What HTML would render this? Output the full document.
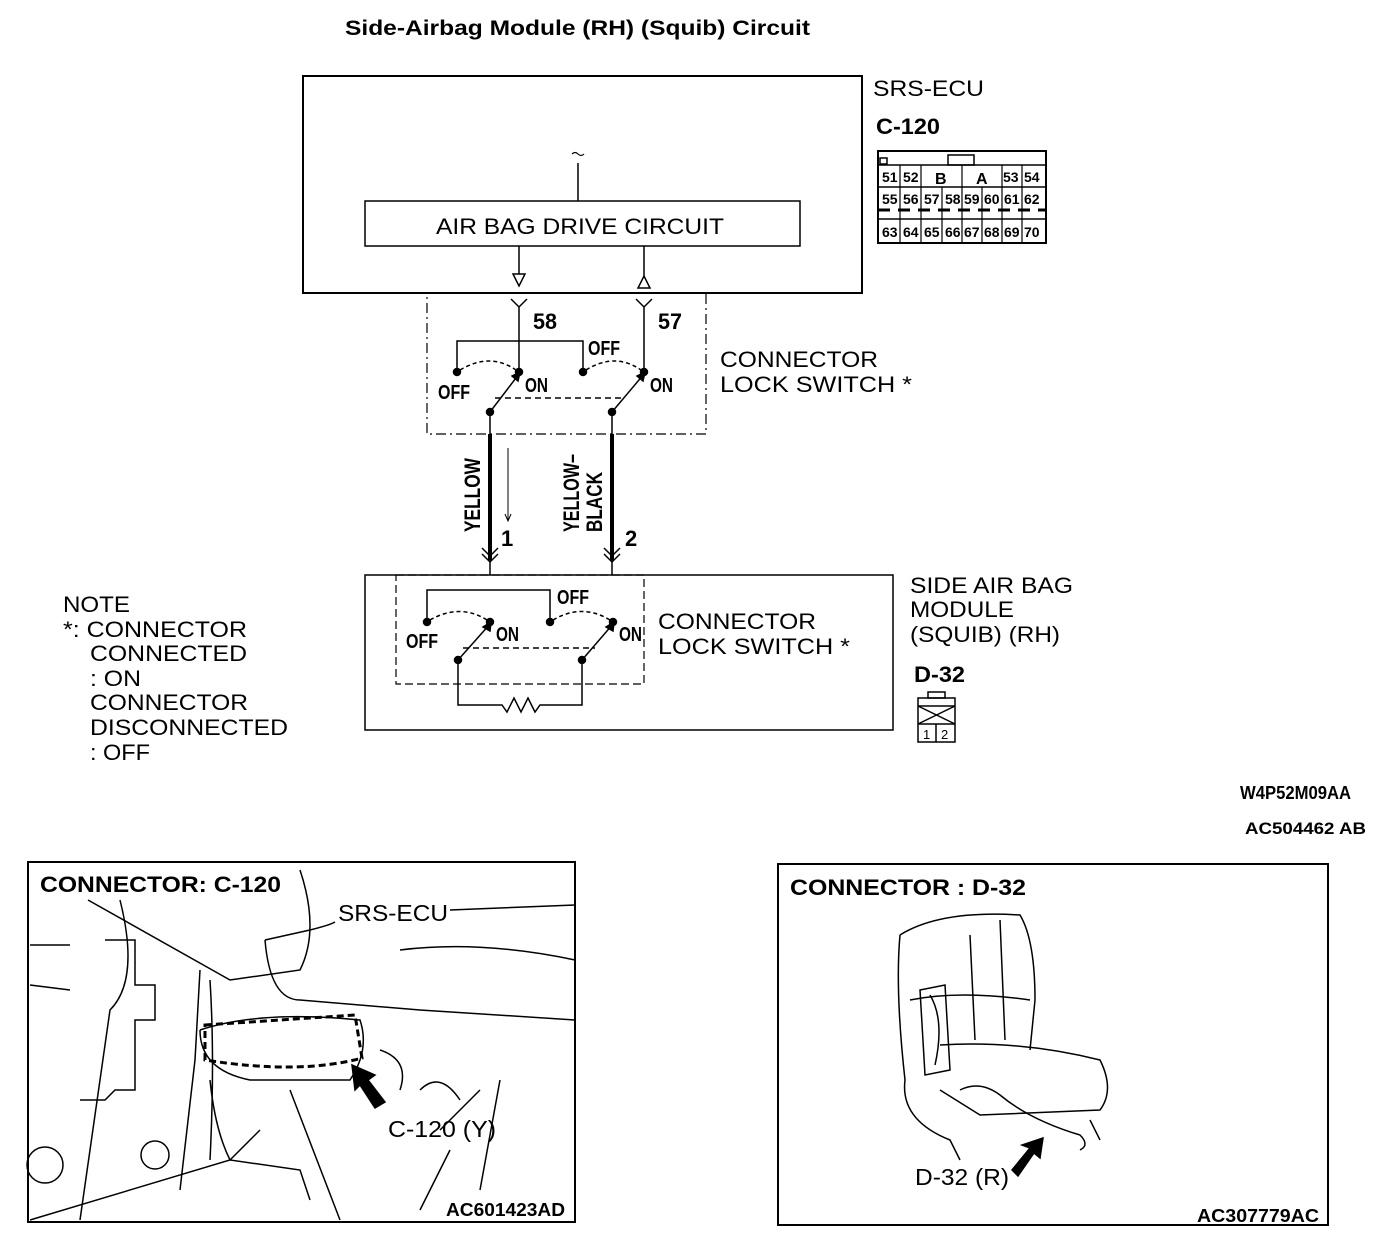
<!DOCTYPE html>
<html><head><style>
body{margin:0;background:#fff;}
svg{display:block;}
text{font-family:"Liberation Sans",sans-serif;fill:#000;}
.b{font-weight:bold;}
</style></head><body>
<svg width="1392" height="1246" viewBox="0 0 1392 1246" xmlns="http://www.w3.org/2000/svg" fill="none" stroke="#000" stroke-width="1.5">
<g stroke="none" lengthAdjust="spacingAndGlyphs">
<text x="345" y="35" class="b" font-size="21" textLength="465" lengthAdjust="spacingAndGlyphs">Side-Airbag Module (RH) (Squib) Circuit</text>
<text x="873" y="96" font-size="22" textLength="111" lengthAdjust="spacingAndGlyphs">SRS-ECU</text>
<text x="876" y="134" font-size="22" class="b" textLength="64" lengthAdjust="spacingAndGlyphs">C-120</text>
<text x="436" y="234" font-size="22" textLength="288" lengthAdjust="spacingAndGlyphs">AIR BAG DRIVE CIRCUIT</text>
<text x="720" y="367" font-size="22" textLength="158" lengthAdjust="spacingAndGlyphs">CONNECTOR</text>
<text x="720" y="392" font-size="22" textLength="192" lengthAdjust="spacingAndGlyphs">LOCK SWITCH *</text>
<text x="658" y="629" font-size="22" textLength="158" lengthAdjust="spacingAndGlyphs">CONNECTOR</text>
<text x="658" y="654" font-size="22" textLength="192" lengthAdjust="spacingAndGlyphs">LOCK SWITCH *</text>
<text x="910" y="593" font-size="22" textLength="163" lengthAdjust="spacingAndGlyphs">SIDE AIR BAG</text>
<text x="910" y="617" font-size="22" textLength="104" lengthAdjust="spacingAndGlyphs">MODULE</text>
<text x="910" y="642" font-size="22" textLength="150" lengthAdjust="spacingAndGlyphs">(SQUIB) (RH)</text>
<text x="914" y="682" font-size="22" class="b" textLength="51" lengthAdjust="spacingAndGlyphs">D-32</text>
<text x="63" y="612" font-size="22" textLength="67" lengthAdjust="spacingAndGlyphs">NOTE</text>
<text x="63" y="637" font-size="22" textLength="184" lengthAdjust="spacingAndGlyphs">*: CONNECTOR</text>
<text x="90" y="661" font-size="22" textLength="157" lengthAdjust="spacingAndGlyphs">CONNECTED</text>
<text x="90" y="686" font-size="22" textLength="51" lengthAdjust="spacingAndGlyphs">: ON</text>
<text x="90" y="710" font-size="22" textLength="158" lengthAdjust="spacingAndGlyphs">CONNECTOR</text>
<text x="90" y="735" font-size="22" textLength="198" lengthAdjust="spacingAndGlyphs">DISCONNECTED</text>
<text x="90" y="760" font-size="22" textLength="60" lengthAdjust="spacingAndGlyphs">: OFF</text>
<text x="1240" y="799" font-size="18" class="b" textLength="111" lengthAdjust="spacingAndGlyphs">W4P52M09AA</text>
<text x="1245" y="834" font-size="17" class="b" textLength="121" lengthAdjust="spacingAndGlyphs">AC504462 AB</text>
<text x="40" y="892" font-size="22" class="b" textLength="241" lengthAdjust="spacingAndGlyphs">CONNECTOR: C-120</text>
<text x="338" y="921" font-size="23" textLength="110" lengthAdjust="spacingAndGlyphs">SRS-ECU</text>
<text x="388" y="1137" font-size="23" textLength="108" lengthAdjust="spacingAndGlyphs">C-120 (Y)</text>
<text x="446" y="1216" font-size="18" class="b" textLength="119" lengthAdjust="spacingAndGlyphs">AC601423AD</text>
<text x="790" y="895" font-size="22" class="b" textLength="236" lengthAdjust="spacingAndGlyphs">CONNECTOR : D-32</text>
<text x="915" y="1185" font-size="23" textLength="94" lengthAdjust="spacingAndGlyphs">D-32 (R)</text>
<text x="1197" y="1222" font-size="18" class="b" textLength="122" lengthAdjust="spacingAndGlyphs">AC307779AC</text>
</g>
<!-- ECU -->
<rect x="303" y="76" width="559" height="217" stroke-width="2"/>
<path d="M572 154 q3 -3 6 0 t6 0" stroke-width="1.2"/>
<line x1="578" y1="163" x2="578" y2="201"/>
<rect x="365" y="201" width="435" height="45"/>
<line x1="519" y1="246" x2="519" y2="274"/><path d="M513 274 L525 274 L519 286 Z"/>
<line x1="644" y1="246" x2="644" y2="276"/><path d="M638 288 L650 288 L644 276 Z"/>
<!-- connector pin diagram -->
<rect x="878" y="151" width="168" height="92" stroke-width="2"/>
<rect x="948" y="155" width="26" height="10"/>
<rect x="880" y="158" width="7" height="6"/>
<line x1="878" y1="165" x2="1046" y2="165"/>
<line x1="878" y1="187" x2="1046" y2="187"/>
<line x1="878" y1="210" x2="1046" y2="210" stroke-width="3" stroke-dasharray="12 8"/>
<line x1="878" y1="219" x2="1046" y2="219"/>
<g font-size="14" class="b" stroke="none">
<text x="882" y="182">51</text><text x="903" y="182">52</text><text x="935" y="184" font-size="16">B</text><text x="976" y="184" font-size="16">A</text><text x="1003" y="182">53</text><text x="1024" y="182">54</text>
<text x="882" y="204">55</text><text x="903" y="204">56</text><text x="924" y="204">57</text><text x="945" y="204">58</text><text x="964" y="204">59</text><text x="984" y="204">60</text><text x="1004" y="204">61</text><text x="1024" y="204">62</text>
<text x="882" y="237">63</text><text x="903" y="237">64</text><text x="924" y="237">65</text><text x="945" y="237">66</text><text x="964" y="237">67</text><text x="984" y="237">68</text><text x="1004" y="237">69</text><text x="1024" y="237">70</text>
</g>
<g stroke-width="1.2">
<line x1="900" y1="165" x2="900" y2="243"/><line x1="921" y1="187" x2="921" y2="243"/><line x1="942" y1="187" x2="942" y2="243"/><line x1="962" y1="187" x2="962" y2="243"/><line x1="982" y1="187" x2="982" y2="243"/><line x1="1002" y1="187" x2="1002" y2="243"/><line x1="1022" y1="165" x2="1022" y2="243"/>
<line x1="921" y1="165" x2="921" y2="187"/><line x1="962" y1="165" x2="962" y2="187"/><line x1="1002" y1="165" x2="1002" y2="187"/>
</g>
<!-- upper connector lock switch -->
<rect x="427" y="293" width="279" height="141" stroke-dasharray="10 4 2 4" stroke-width="1.2"/>
<path d="M511 299 L519 307 L527 299 M519 307 L519 372"/>
<path d="M636 299 L644 307 L652 299 M644 307 L644 372"/>
<g font-size="22" class="b" stroke="none">
<text x="533" y="329" textLength="24" lengthAdjust="spacingAndGlyphs">58</text>
<text x="658" y="329" textLength="24" lengthAdjust="spacingAndGlyphs">57</text>
</g>
<path d="M457 372 L457 341 L583 341 L583 372"/>
<path d="M460 370 Q490 352 516 370" stroke-dasharray="4 3"/>
<path d="M586 370 Q615 352 641 370" stroke-dasharray="4 3"/>
<g fill="#000"><circle cx="457" cy="372" r="3.5"/><circle cx="519" cy="372" r="3.5"/><circle cx="583" cy="372" r="3.5"/><circle cx="644" cy="372" r="3.5"/><circle cx="490" cy="412" r="3.5"/><circle cx="612" cy="412" r="3.5"/></g>
<line x1="490" y1="412" x2="519" y2="374"/><line x1="612" y1="412" x2="644" y2="374"/>
<path d="M512 376 L520 372 L518 381 Z" fill="#000"/><path d="M637 376 L645 372 L643 381 Z" fill="#000"/>
<line x1="495" y1="398" x2="625" y2="398" stroke-dasharray="6 4"/>
<g font-size="20" class="b" stroke="none">
<text x="438" y="399" textLength="32" lengthAdjust="spacingAndGlyphs">OFF</text><text x="525" y="392" textLength="23" lengthAdjust="spacingAndGlyphs">ON</text><text x="588" y="355" textLength="32" lengthAdjust="spacingAndGlyphs">OFF</text><text x="650" y="392" textLength="23" lengthAdjust="spacingAndGlyphs">ON</text>
</g>
<!-- wires -->
<line x1="490" y1="412" x2="490" y2="575"/><line x1="612" y1="412" x2="612" y2="575"/>
<line x1="490" y1="434" x2="490" y2="560" stroke-width="4"/><line x1="612" y1="434" x2="612" y2="560" stroke-width="4"/>
<path d="M482 548 L490 556 L498 548 M482 554 L490 562 L498 554"/>
<path d="M604 548 L612 556 L620 548 M604 554 L612 562 L620 554"/>
<line x1="508" y1="448" x2="508" y2="520" stroke-width="1"/><path d="M505 514 L508 521 L511 514" stroke-width="1"/>
<g font-size="22" class="b" stroke="none">
<text transform="translate(480,532) rotate(-90)" textLength="74" lengthAdjust="spacingAndGlyphs">YELLOW</text>
<text transform="translate(579,532) rotate(-90)" textLength="78" lengthAdjust="spacingAndGlyphs">YELLOW–</text>
<text transform="translate(602,532) rotate(-90)" textLength="60" lengthAdjust="spacingAndGlyphs">BLACK</text>
<text x="501" y="546">1</text><text x="625" y="546">2</text>
</g>
<!-- side air bag module -->
<rect x="365" y="575" width="528" height="155"/>
<rect x="396" y="575" width="248" height="109" stroke-dasharray="8 4" stroke-width="1.2"/>
<path d="M427 622 L427 590 L550 590 L550 622"/>
<path d="M430 620 Q460 603 487 620" stroke-dasharray="4 3"/>
<path d="M553 620 Q582 603 610 620" stroke-dasharray="4 3"/>
<g fill="#000"><circle cx="427" cy="622" r="3.5"/><circle cx="490" cy="622" r="3.5"/><circle cx="550" cy="622" r="3.5"/><circle cx="613" cy="622" r="3.5"/><circle cx="458" cy="660" r="3.5"/><circle cx="582" cy="660" r="3.5"/></g>
<line x1="458" y1="660" x2="490" y2="624"/><line x1="582" y1="660" x2="613" y2="624"/>
<path d="M483 627 L491 622 L490 631 Z" fill="#000"/><path d="M606 627 L614 622 L613 631 Z" fill="#000"/>
<line x1="463" y1="648" x2="595" y2="648" stroke-dasharray="6 4"/>
<path d="M458 660 L458 705 L502 705 L507 712 L514 698 L521 712 L528 698 L535 712 L540 705 L582 705 L582 660"/>
<g font-size="20" class="b" stroke="none">
<text x="406" y="648" textLength="32" lengthAdjust="spacingAndGlyphs">OFF</text><text x="496" y="641" textLength="23" lengthAdjust="spacingAndGlyphs">ON</text><text x="557" y="604" textLength="32" lengthAdjust="spacingAndGlyphs">OFF</text><text x="619" y="641" textLength="23" lengthAdjust="spacingAndGlyphs">ON</text>
</g>
<rect x="918" y="698" width="37" height="44"/><rect x="928" y="692" width="17" height="6"/>
<line x1="918" y1="706" x2="955" y2="706"/><line x1="918" y1="724" x2="955" y2="724"/>
<line x1="918" y1="706" x2="955" y2="724"/><line x1="955" y1="706" x2="918" y2="724"/>
<line x1="936" y1="724" x2="936" y2="742"/>
<text x="923" y="739" font-size="13" stroke="none">1</text><text x="941" y="739" font-size="13" stroke="none">2</text>
<!-- photo left -->
<rect x="28" y="862" width="547" height="360" stroke-width="2"/>
<g stroke-width="1.5">
<path d="M88 900 L230 980 L300 970 Q320 930 300 870"/>
<path d="M120 900 Q140 980 110 1010 L80 1220"/>
<path d="M105 940 L135 940 L135 985 L155 985 L155 1020 L135 1020 L135 1090 L115 1090 L105 1100 L80 1100"/>
<path d="M200 970 L195 1060 L180 1190 M210 980 Q215 1060 210 1160"/>
<path d="M30 1220 L230 1160 L260 1130"/>
<path d="M30 945 L70 945 M30 985 L70 990"/>
<path d="M265 940 L310 930 Q330 925 335 922 M450 910 L575 905"/>
<path d="M265 940 Q270 1000 300 1000 L420 1010 L575 1020"/>
<path d="M400 950 Q480 940 575 960"/>
<path d="M200 1030 Q260 1010 360 1020 Q370 1050 350 1080 L250 1080 Q200 1070 200 1030"/>
<path d="M210 1080 Q215 1130 230 1160 L300 1170 L310 1200 M290 1090 L340 1220"/>
<path d="M380 1050 Q410 1060 400 1090 M420 1090 Q440 1070 460 1100"/>
<path d="M480 1090 L440 1130 M500 1080 L480 1190 M450 1150 L420 1210"/>
<circle cx="155" cy="1155" r="14"/><circle cx="45" cy="1165" r="18"/>
</g>
<path d="M205 1025 L355 1015 L362 1058 Q300 1075 205 1060 Z" stroke-dasharray="7 4" stroke-width="3"/>
<path d="M355 1090 L352 1065 L375 1075 L368 1080 L385 1102 L375 1108 L360 1085 Z" fill="#000"/>
<!-- photo right -->
<rect x="778" y="864" width="550" height="361" stroke-width="2"/>
<g stroke-width="1.5">
<path d="M900 935 Q940 910 1020 915 Q1035 940 1035 1000 L1030 1050"/>
<path d="M900 935 Q895 990 905 1080 Q900 1120 950 1140 L960 1160"/>
<path d="M910 1000 Q960 990 1030 1000 M940 1045 Q1020 1040 1100 1060 Q1115 1090 1100 1110 L980 1115 L940 1090"/>
<path d="M920 990 L945 985 L950 1070 L925 1075 Z"/>
<path d="M930 995 Q945 1020 935 1065"/>
<path d="M970 935 L975 1040 M1000 920 L1005 1040"/>
<path d="M960 1090 Q980 1080 1000 1095 Q1030 1120 1080 1135 Q1090 1145 1080 1150"/>
<path d="M1090 1120 L1100 1140"/>
</g>
<path d="M1012 1170 L1030 1148 L1022 1145 L1043 1138 L1040 1158 L1034 1153 L1018 1176 Z" fill="#000"/>
</svg>
</body></html>
